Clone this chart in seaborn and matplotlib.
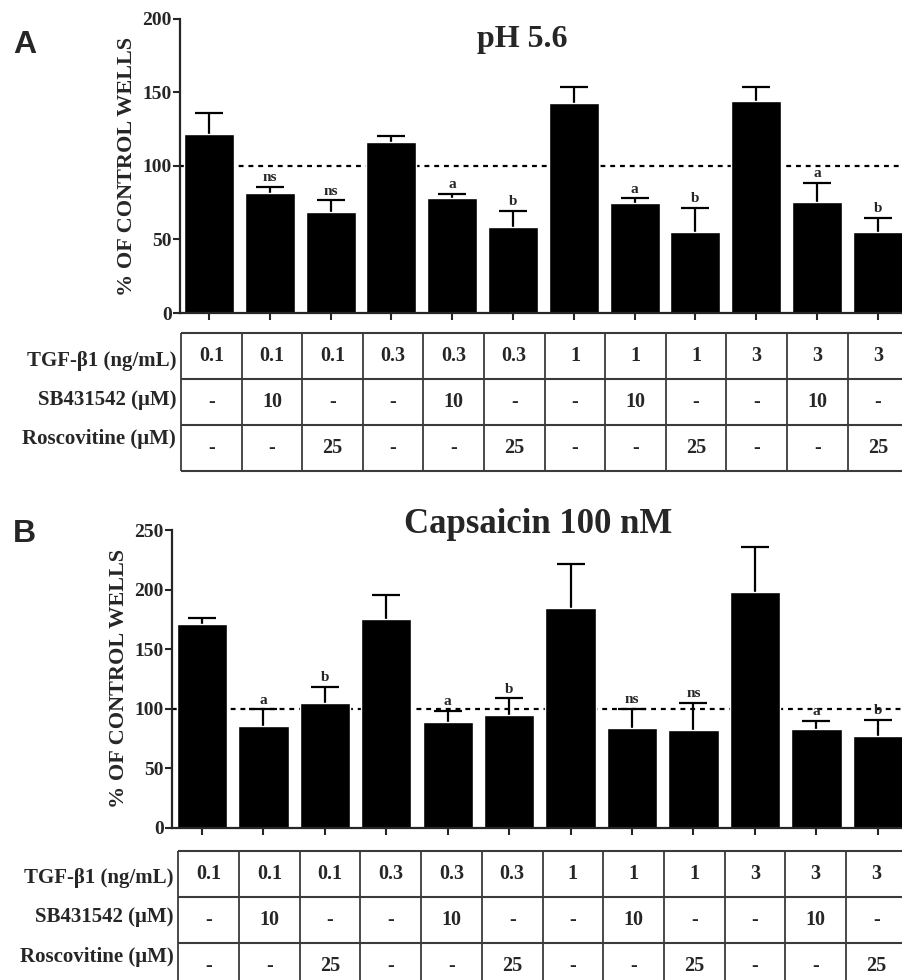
import numpy as np
import pandas as pd
import matplotlib
matplotlib.use("Agg")
import matplotlib.pyplot as plt
import seaborn as sns

# condiciones (tabla bajo cada panel)
tgf = ['0.1', '0.1', '0.1', '0.3', '0.3', '0.3', '1', '1', '1', '3', '3', '3']
sb431542 = ['-', '10', '-', '-', '10', '-', '-', '10', '-', '-', '10', '-']
roscovitine = ['-', '-', '25', '-', '-', '25', '-', '-', '25', '-', '-', '25']
row_labels = ['TGF-β1 (ng/mL)', 'SB431542 (μM)', 'Roscovitine (μM)']

# panel A: pH 5.6
ph_mean = [122, 81.8, 69, 116.3, 78.4, 58.3, 143, 74.6, 55.3, 144.4, 75.7, 55.3]
ph_err = [14, 3.9, 7.6, 4.1, 2.8, 10.9, 11, 3.4, 16.1, 9.6, 12.9, 9.5]
ph_sig = ['', 'ns', 'ns', '', 'a', 'b', '', 'a', 'b', '', 'a', 'b']

# panel B: capsaicina 100 nM
cap_mean = [171, 85.6, 104.4, 175.5, 89, 94.6, 184.2, 84, 82, 198, 82.6, 77]
cap_err = [5.3, 13.8, 13.6, 20.1, 9, 14, 37.2, 15.7, 23, 37.7, 7.3, 13.7]
cap_sig = ['', 'a', 'b', '', 'a', 'b', '', 'ns', 'ns', '', 'a', 'b']

sns.set_style("ticks")
plt.rcParams['font.family'] = ['Liberation Serif', 'DejaVu Serif']
plt.rcParams['font.weight'] = 'bold'

W, H = 903, 980
fig = plt.figure(figsize=(W / 100, H / 100), dpi=100)

conds = [f"{t}|{s}|{r}" for t, s, r in zip(tgf, sb431542, roscovitine)]


def px_axes(x0, y_top, x1, y_bot):
    return fig.add_axes([x0 / W, 1 - y_bot / H, (x1 - x0) / W, (y_bot - y_top) / H])


def bar_panel(ax, means, errs, sigs, ymax, step, xlim):
    df = pd.DataFrame({'cond': conds, 'value': means})
    sns.barplot(data=df, x='cond', y='value', order=conds, color='black',
                saturation=1, width=0.82, errorbar=None, ax=ax, zorder=2)
    pos = np.arange(len(conds))
    # barra de error simetrica detras de la barra: solo se ve la mitad superior
    ax.errorbar(pos, means, yerr=errs, fmt='none', ecolor='black',
                elinewidth=1.6, capsize=10, capthick=1.6, zorder=1)
    for x, m, e, s in zip(pos, means, errs, sigs):
        if s:
            ax.annotate(s, (x, m + e), xytext=(0, 2), textcoords='offset points',
                        ha='center', va='bottom', fontsize=11, fontweight='bold')
    ax.axhline(100, color='black', ls=(0, (2.2, 2.2)), lw=1.6, zorder=0.5)
    ax.set_xlim(*xlim)
    ax.set_ylim(0, ymax)
    ax.set_yticks(np.arange(0, ymax + 1, step))
    ax.set_xticks(pos)
    ax.set_xticklabels([])
    ax.set_xlabel('')
    ax.set_ylabel('% OF CONTROL WELLS', fontsize=16, fontweight='bold', labelpad=4)
    ax.tick_params(axis='y', length=5, width=1.5, pad=1, labelsize=14)
    ax.tick_params(axis='x', length=5, width=1.5)
    for lbl in ax.get_yticklabels():
        lbl.set_fontweight('bold')
    sns.despine(ax=ax)
    for sp in ['left', 'bottom']:
        ax.spines[sp].set_linewidth(1.6)
    ax.set_facecolor('none')


def table_panel(ax):
    cols = len(conds)
    ax.set_xlim(0, cols)
    ax.set_ylim(3, 0)
    ax.axis('off')
    ax.hlines([0, 1, 2, 3], 0, cols, color='#3a3a3a', lw=1.5, clip_on=False)
    ax.vlines(np.arange(cols + 1), 0, 3, color='#3a3a3a', lw=1.3, clip_on=False)
    for r, row in enumerate([tgf, sb431542, roscovitine]):
        for c, v in enumerate(row):
            ax.text(c + 0.5, r + 0.5, v, ha='center', va='center',
                    fontsize=14.5, fontweight='bold', clip_on=False)
    for r, (lab, dy) in enumerate(zip(row_labels, [0.6, 0.45, 0.3])):
        ax.text(-0.08, r + dy, lab, ha='right', va='center',
                fontsize=15, fontweight='bold', clip_on=False)


# panel A
axA = px_axes(180, 19, 903, 313)
bar_panel(axA, ph_mean, ph_err, ph_sig, 200, 50, (-0.477, 11.415))
axA.set_title('pH 5.6', fontsize=23, fontweight='bold', x=(522 - 180) / (903 - 180), y=1.0, pad=-20)
tabA = px_axes(181, 333, 181 + 12 * 60.6, 470.7)
table_panel(tabA)

# panel B
axB = px_axes(172.3, 530, 903, 827.7)
bar_panel(axB, cap_mean, cap_err, cap_sig, 250, 50, (-0.483, 11.41))
axB.set_title('Capsaicin 100 nM', fontsize=25, fontweight='bold', x=(538 - 172.3) / (903 - 172.3), y=1.0, pad=-2)
tabB = px_axes(178.3, 850.7, 178.3 + 12 * 60.7, 988.7)
table_panel(tabB)

fig.text(13 / W, 1 - 53 / H, 'A', fontsize=23, fontweight='bold', family='Liberation Sans', va='baseline')
fig.text(13 / W, 1 - 542 / H, 'B', fontsize=23, fontweight='bold', family='Liberation Sans', va='baseline')

fig.savefig('out.png', dpi=100, facecolor='white')
plt.close(fig)
